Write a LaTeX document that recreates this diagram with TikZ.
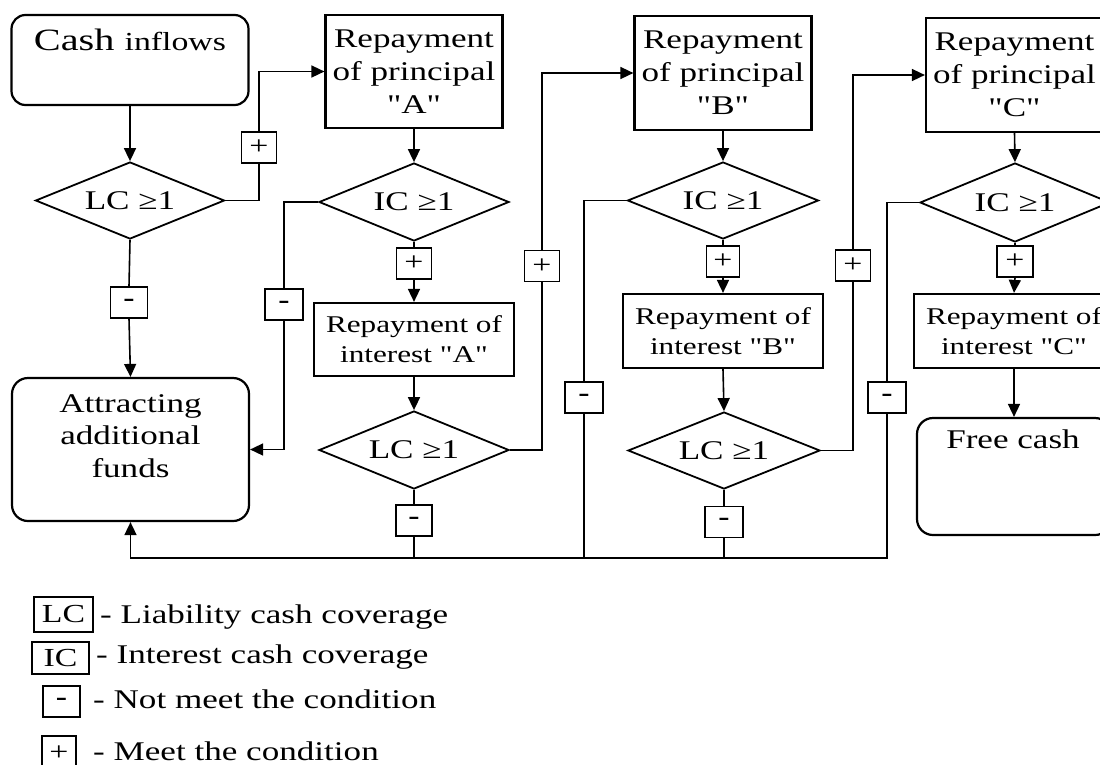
\documentclass[tikz,border=0pt]{standalone}
\usepackage{fontspec}
\setmainfont{Liberation Serif}[FakeStretch=1.3, Ligatures=TeXOff]
\usetikzlibrary{shapes.geometric,arrows.meta}
\begin{document}
\begin{tikzpicture}[x=1pt,y=-1pt,
  blk/.style={draw, line width=2.2pt, inner sep=0pt, align=center, font=\fontsize{27}{33}\selectfont},
  dia/.style={draw, diamond, aspect=2.45, line width=1.8pt, inner sep=0pt, minimum width=190pt, minimum height=78pt, font=\fontsize{27}{30}\selectfont},
  sgn/.style={draw, fill=white, line width=1.2pt, minimum width=35pt, minimum height=31pt, inner sep=0pt, font=\fontsize{26}{26}\selectfont},
  intbox/.style={blk, minimum width=200pt, minimum height=74pt, font=\fontsize{24}{30}\selectfont},
  prinbox/.style={blk, minimum width=177pt, minimum height=113pt},
  con/.style={line width=1.6pt},
  arr/.style={con, -{Triangle[length=13pt,width=12pt]}},
  txt/.style={inner sep=0pt, align=center, font=\fontsize{27}{32.5}\selectfont},
  leg/.style={anchor=base west, inner sep=0pt, font=\fontsize{27}{32}\selectfont}]
\useasboundingbox (0,0) rectangle (1100,764);
\clip (0,0) rectangle (1100,764);

% column 0
\node[blk, rounded corners=14pt, minimum width=237pt, minimum height=90pt] (cash) at (130,60) {};
\node[anchor=base, inner sep=0pt] (cashtxt) at (130,50) {\fontsize{31}{33}\selectfont Cash \fontsize{26}{33}\selectfont inflows};
\node[dia, minimum width=189pt, minimum height=77pt] (LC1) at (130,200.5) {LC ≥1};
\node[blk, rounded corners=16pt, minimum width=237pt, minimum height=143pt] (Attr) at (130.5,449.5) {};
\node[txt] (attrtxt) at (130.5,436) {Attracting\\additional\\funds};

% column A
\node[prinbox] (PA) at (414,71.5) {Repayment\\of principal\\"A"};
\node[dia] (ICA) at (414,202) {IC ≥1};
\node[intbox, minimum height=73pt] (IntA) at (414,339.5) {Repayment of\\interest "A"};
\node[dia] (LCA) at (414,450) {LC ≥1};

% column B
\node[prinbox, minimum height=114pt] (PB) at (723,73) {Repayment\\of principal\\"B"};
\node[dia, minimum width=191pt, minimum height=77pt] (ICB) at (723,200.5) {IC ≥1};
\node[intbox] (IntB) at (723,331) {Repayment of\\interest "B"};
\node[dia, minimum width=192pt, minimum height=77pt] (LCB) at (724,450.5) {LC ≥1};

% column C
\node[prinbox, minimum height=114pt] (PC) at (1014.5,75) {Repayment\\of principal\\"C"};
\node[dia, minimum height=79pt] (ICC) at (1015,202.5) {IC ≥1};
\node[intbox] (IntC) at (1014,331) {Repayment of\\interest "C"};
\node[blk, rounded corners=16pt, minimum width=194pt, minimum height=117pt] (Free) at (1014,476.5) {};
\node[anchor=base, inner sep=0pt, font=\fontsize{27}{33}\selectfont] (freetxt) at (1013,448) {Free cash};

% sign boxes
\node[sgn] (p1) at (259,147.5) {+};
\node[sgn, minimum width=37pt] (m1) at (129,302.5) {\textbf{-}};
\node[sgn, minimum width=38pt] (mA1) at (284,304.5) {\textbf{-}};
\node[sgn] (pA1) at (414,263.5) {+};
\node[sgn, minimum width=36pt] (mA2) at (414,520.5) {\textbf{-}};
\node[sgn] (pA2) at (542,266) {+};
\node[sgn, minimum width=38pt] (mB1) at (584,397.5) {\textbf{-}};
\node[sgn, minimum width=33pt] (pB1) at (723,261.5) {+};
\node[sgn, minimum width=38pt] (mB2) at (724,522) {\textbf{-}};
\node[sgn] (pB2) at (853,265.5) {+};
\node[sgn, minimum width=38pt] (mC1) at (887,397.5) {\textbf{-}};
\node[sgn, minimum width=36pt] (pC1) at (1015,261.5) {+};

% connectors column 0
\draw[arr] (cash.south) -- (LC1.north);
\draw[con] (LC1.east) -| (p1.south);
\draw[arr] (p1.north) |- (PA.west);
\draw[con] (LC1.south) -- (m1.north);
\draw[arr] (m1.south) -- (Attr.north);

% column A
\draw[arr] (PA.south) -- (ICA.north);
\draw[con] (ICA.west) -| (mA1.north);
\draw[arr] (mA1.south) |- (Attr.east);
\draw[con] (ICA.south) -- (pA1.north);
\draw[arr] (pA1.south) -- (IntA.north);
\draw[arr] (IntA.south) -- (LCA.north);
\draw[con] (LCA.east) -| (pA2.south);
\draw[arr] (pA2.north) |- (PB.west);
\draw[con] (LCA.south) -- (mA2.north);

% column B
\draw[arr] (PB.south) -- (ICB.north);
\draw[con] (ICB.west) -| (mB1.north);
\draw[con] (ICB.south) -- (pB1.north);
\draw[arr] (pB1.south) -- (IntB.north);
\draw[arr] (IntB.south) -- (LCB.north);
\draw[con] (LCB.east) -| (pB2.south);
\draw[arr] (pB2.north) |- (PC.west);
\draw[con] (LCB.south) -- (mB2.north);

% column C
\draw[arr] (PC.south) -- (ICC.north);
\draw[con] (ICC.west) -| (mC1.north);
\draw[con] (ICC.south) -- (pC1.north);
\draw[arr] (pC1.south) -- (IntC.north);
\draw[arr] (IntC.south) -- (Free.north);

% bottom bus
\coordinate (bus) at (130.5,558);
\draw[arr] (mC1.south) |- (bus) -- (Attr.south);
\draw[con] (mA2.south) -- (mA2.south |- bus);
\draw[con] (mB1.south) -- (mB1.south |- bus);
\draw[con] (mB2.south) -- (mB2.south |- bus);

% legend
\node[draw, line width=2pt, minimum width=59pt, minimum height=35pt, inner sep=0pt, font=\fontsize{26}{26}\selectfont] (kLC) at (63.5,614.5) {LC};
\node[leg] (tLC) at (100,623) {- Liability cash coverage};
\node[draw, line width=2pt, minimum width=57pt, minimum height=32pt, inner sep=0pt, font=\fontsize{26}{26}\selectfont] (kIC) at (60.5,658) {IC};
\node[leg] (tIC) at (96,663) {- Interest cash coverage};
\node[sgn, minimum width=37pt] (kM) at (61.5,701.5) {\textbf{-}};
\node[leg] (tM) at (93,708) {- Not meet the condition};
\node[sgn, minimum width=34pt, minimum height=34pt] (kP) at (59,753) {+};
\node[leg] (tP) at (93,760) {- Meet the condition};
\end{tikzpicture}
\end{document}
